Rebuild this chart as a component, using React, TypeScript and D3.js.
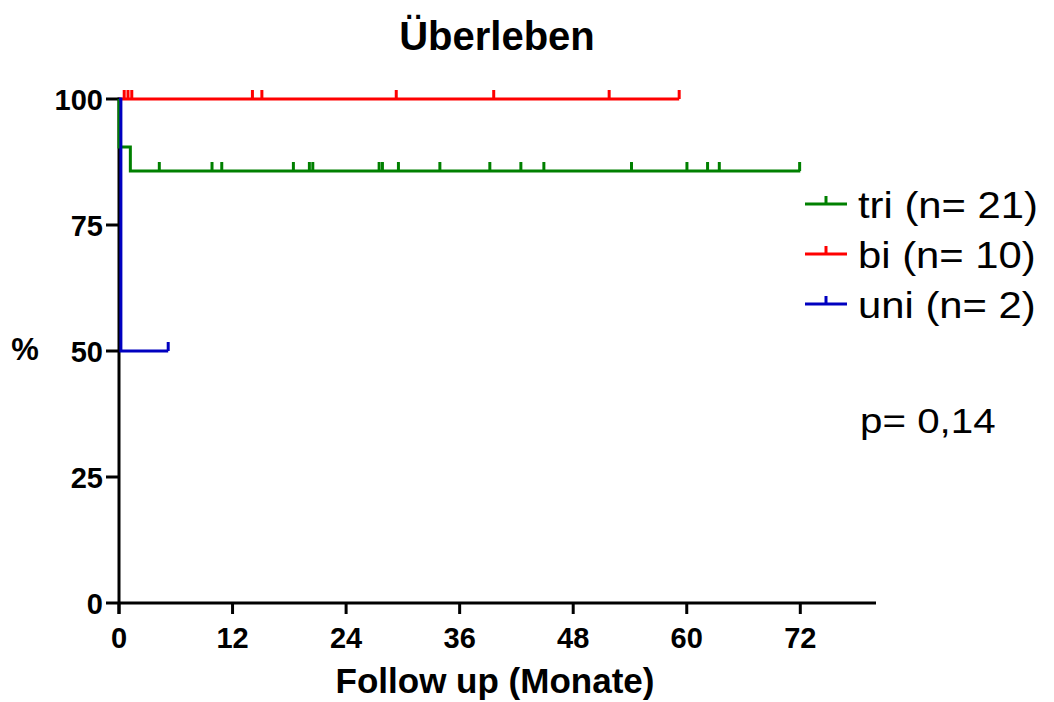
import React from "react";
import * as d3 from "d3";

const title = "Überleben";
const xLabel = "Follow up (Monate)";
const yLabel = "%";
const xTicks = [0, 12, 24, 36, 48, 60, 72];
const yTicks = [0, 25, 50, 75, 100];

// Survival step points [time, percent]
const triSteps: [number, number][] = [[0, 100], [0, 90.48], [1.2, 90.48], [1.2, 85.71], [72, 85.71]];
const triCensor = [4.26, 9.83, 10.86, 18.43, 20.12, 20.48, 27.49, 27.84, 29.53, 33.91, 39.19, 42.47, 44.9, 54.16, 60.02, 62.2, 63.44, 71.93];
const biSteps: [number, number][] = [[0, 100], [59.2, 100]];
const biCensor = [0.55, 0.95, 1.35, 14.1, 15.1, 29.3, 39.6, 51.8, 59.2];
const uniSteps: [number, number][] = [[0, 100], [0.2, 100], [0.2, 50], [5.2, 50]];
const uniCensor = [5.2];

const seriesNames = ["tri (n= 21)", "bi (n= 10)", "uni (n= 2)"];
const seriesColors = ["#008000", "#FF0000", "#0000C0"];
const pText = "p= 0,14";

const FONT = "'Liberation Sans', Arial, sans-serif";

export default function App() {
  const W = 1054, H = 702;
  const x = d3.scaleLinear().domain([0, 80]).range([119, 876]);
  const y = d3.scaleLinear().domain([0, 100]).range([603, 99]);
  const line = d3.line<[number, number]>().x(d => x(d[0])).y(d => y(d[1]));

  const series = [
    { steps: triSteps, censor: triCensor, color: seriesColors[0] },
    { steps: biSteps, censor: biCensor, color: seriesColors[1] },
    { steps: uniSteps, censor: uniCensor, color: seriesColors[2] },
  ];

  const valueAt = (steps: [number, number][], t: number) => {
    let v = steps[0][1];
    for (const s of steps) if (s[0] <= t) v = s[1];
    return v;
  };

  return (
    <svg width={W} height={H} style={{ position: "absolute", left: 0, top: 0 }} fontFamily={FONT}>
      <rect width={W} height={H} fill="white" />
      <text x={497} y={50} textAnchor="middle" fontSize={40} fontWeight="bold">{title}</text>

      {/* axes */}
      <line x1={x(0)} x2={x(80)} y1={y(0)} y2={y(0)} stroke="black" strokeWidth={3} />
      <line x1={x(0)} x2={x(0)} y1={y(100) - 1.5} y2={y(0) + 11} stroke="black" strokeWidth={3} />
      {yTicks.map(t => (
        <g key={"y" + t}>
          <line x1={x(0) - 13} x2={x(0)} y1={y(t)} y2={y(t)} stroke="black" strokeWidth={3} />
          <text x={103} y={y(t) + 11} textAnchor="end" fontSize={29} fontWeight="bold">{t}</text>
        </g>
      ))}
      {xTicks.map(t => (
        <g key={"x" + t}>
          <line x1={x(t)} x2={x(t)} y1={y(0)} y2={y(0) + 11} stroke="black" strokeWidth={3} />
          <text x={x(t)} y={648} textAnchor="middle" fontSize={29} fontWeight="bold">{t}</text>
        </g>
      ))}
      <text x={495} y={693} textAnchor="middle" fontSize={35} fontWeight="bold">{xLabel}</text>
      <text x={25} y={360} textAnchor="middle" fontSize={31} fontWeight="bold">{yLabel}</text>

      {/* series */}
      {series.map((s, i) => (
        <g key={"s" + i}>
          <path d={line(s.steps) || ""} fill="none" stroke={s.color} strokeWidth={3} />
          {s.censor.map((c, j) => (
            <line key={j} x1={x(c)} x2={x(c)} y1={y(valueAt(s.steps, c))} y2={y(valueAt(s.steps, c)) - 9}
              stroke={s.color} strokeWidth={3} />
          ))}
        </g>
      ))}

      {/* legend */}
      {seriesNames.map((n, i) => {
        const ly = 204 + i * 50;
        return (
          <g key={"l" + i}>
            <line x1={805} x2={847} y1={ly} y2={ly} stroke={seriesColors[i]} strokeWidth={3} />
            <line x1={826} x2={826} y1={ly} y2={ly - 8} stroke={seriesColors[i]} strokeWidth={3} />
            <text x={858} y={ly + 14} fontSize={37}
              transform={`translate(858,0) scale(1.13,1) translate(-858,0)`}>{n}</text>
          </g>
        );
      })}
      <text x={860} y={433} fontSize={36}
        transform={`translate(860,0) scale(1.12,1) translate(-860,0)`}>{pText}</text>
    </svg>
  );
}
